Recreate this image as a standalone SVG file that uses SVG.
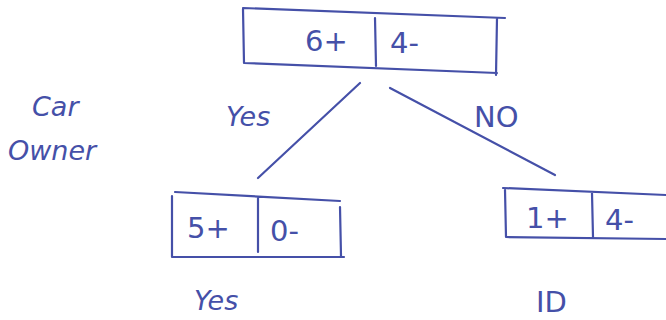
<svg xmlns="http://www.w3.org/2000/svg" width="666" height="320" viewBox="0 0 666 320">
<style>
.ln{fill:none;stroke:#4550a8;stroke-width:2.2;stroke-linecap:round;stroke-linejoin:round}
.t{font-family:"DejaVu Sans","Liberation Sans",sans-serif;fill:#4550a8;font-size:29px}
.s{font-family:"DejaVu Sans","Liberation Sans",sans-serif;fill:#4550a8;font-size:27px;font-style:italic}
</style>
<rect width="666" height="320" fill="#fff"/>
<g id="root">
<path class="ln" d="M243,8 L505,18 M243,9 L244,63 L497,73 M497,18 L496,75 M375,18 L376,66"/>
<text class="t" x="305" y="51">6+</text>
<text class="t" x="390" y="53">4-</text>
</g>
<g id="yesLeaf">
<path class="ln" d="M175,192 L340,201 M172,196 L172,257 L344,257 M340,207 L341,256 M258,198 L258,252"/>
<text class="t" x="187" y="238">5+</text>
<text class="t" x="270" y="241">0-</text>
</g>
<g id="noLeaf">
<path class="ln" d="M503,188 L666,195 M505,190 L506,237 L666,239 M592,193 L593,237"/>
<text class="t" x="526" y="228">1+</text>
<text class="t" x="605" y="230">4-</text>
</g>
<g id="connectors">
<path class="ln" d="M360,83 L258,178 M390,88 L555,175"/>
</g>
<g id="labels">
<text class="s" x="32" y="116">Car</text>
<text class="s" x="8" y="160">Owner</text>
<text class="s" x="226" y="126">Yes</text>
<text class="t" x="474" y="127">NO</text>
<text class="s" x="194" y="310">Yes</text>
<text class="t" x="536" y="312">ID</text>
</g>
</svg>
